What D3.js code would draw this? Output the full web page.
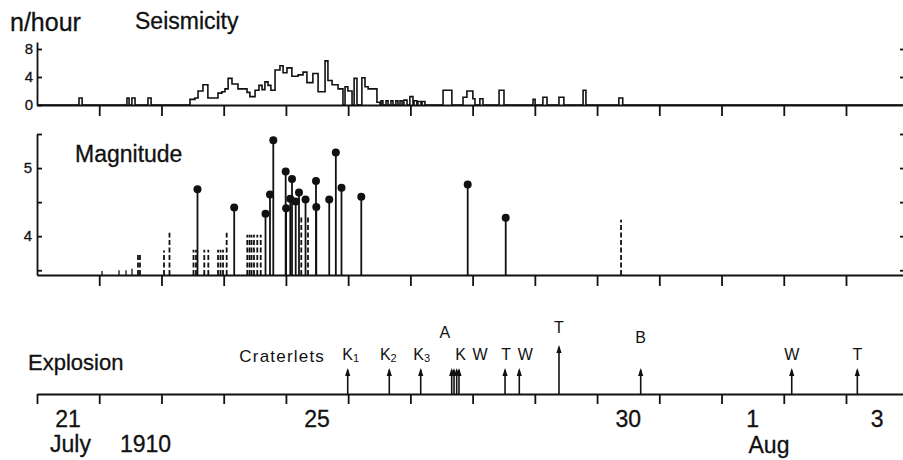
<!DOCTYPE html>
<html>
<head>
<meta charset="utf-8">
<script src="https://cdn.jsdelivr.net/npm/d3@7"></script>
<style>
body { margin: 0; background: #fff; }
svg { display: block; font-family: 'Liberation Sans', Arial, sans-serif; }
svg text { stroke: #111; stroke-width: 0.3px; }
svg text.small { stroke: none; }
.axis path, .axis line { stroke: #111; stroke-width: 1.8; }
.axis text { fill: #111; }
</style>
</head>
<body>
<svg id="chart" width="903" height="460"></svg>
<script>
'use strict';

// times are decimal days of July 1910 (Aug 1 = 32)
var dayTicks = d3.range(21, 35);
var dayLabelDays = [21, 25, 30, 32, 34];
var dayLabelText = ['21', '25', '30', '1', '3'];

// seismicity, n/hour as a step line: hours from 21 July 00:00 where the rate changes
var seisHour = [0, 16.2, 17.4, 34.7, 35.5, 36.6, 37.8, 42.8, 44.0, 59.0, 60.9, 62.1, 64.0, 65.9,
	69.8, 71.3, 72.5, 73.7, 75.2, 77.5, 81.0, 82.1, 84.1, 85.6, 86.8, 87.9, 89.1, 90.2,
	91.8, 93.7, 94.9, 96.4, 98.3, 100.7, 102.6, 104.1, 106.4, 108.4, 111.1, 112.2, 113.8,
	116.1, 118.0, 118.8, 119.9, 121.5, 122.3, 123.4, 125.3, 126.5, 127.7, 131.1, 132.3,
	132.7, 133.4, 134.6, 135.4, 136.5, 137.3, 138.4, 139.2, 140.0, 140.8, 141.5, 142.7,
	143.8, 145.0, 145.4, 146.5, 146.9, 148.1, 148.5, 149.6, 156.6, 160.0, 164.3, 165.8,
	168.1, 168.9, 170.8, 172.0, 178.2, 180.1, 191.3, 192.1, 195.1, 196.7, 201.3, 203.2,
	210.6, 211.7, 224.4, 225.9, 334];
var seisRate = [0, 1, 0, 1, 0, 1, 0, 1, 0, 0.8, 1, 2, 2.9, 1,
	1.7, 1.9, 2.3, 3.8, 3, 2.3, 1.8, 1.2, 2.1, 2.8, 2.2, 3.3, 2.8, 2.1,
	5, 5.6, 4.6, 5.3, 4.1, 4.3, 4.7, 3.2, 4.5, 1.9, 6.3, 3.5, 2.9,
	2.3, 0, 2.6, 2, 0, 3.8, 0, 3.9, 2.6, 2.3, 0.4, 0,
	0.6, 0, 0.6, 0, 0.6, 0, 0.6, 0, 0.6, 0, 0.7, 0,
	1.2, 0, 0.6, 0, 0.5, 0, 0.5, 0, 2.1, 0, 1.1, 2,
	0.9, 0, 0.9, 0, 2.1, 0, 0.8, 0, 1.1, 0, 1.1, 0,
	2.1, 0, 1, 0, 0];

// magnitudes: 'dot' solid with head, 'line' solid without head, 'dash' dashed
var magDay = [22.045, 22.318, 22.430, 22.527, 22.623, 22.655, 23.041, 23.129, 23.515, 23.555,
	23.579, 23.688, 23.753, 23.909, 23.949, 23.989, 24.048, 24.169, 24.379, 24.415,
	24.447, 24.487, 24.540, 24.595, 24.672, 24.744, 24.797, 24.996, 25.003, 25.070,
	25.098, 25.157, 25.210, 25.247, 25.315, 25.355, 25.483, 25.488, 25.696, 25.802,
	25.893, 26.211, 27.921, 28.532, 30.385];
var magValue = [3.49, 3.50, 3.50, 3.52, 3.76, 3.76, 3.79, 4.05, 3.80, 3.80,
	4.69, 3.80, 3.80, 3.80, 3.80, 3.80, 4.05, 4.42, 4.02, 4.02,
	4.02, 4.02, 4.02, 4.02, 4.33, 4.61, 5.41, 4.95, 4.41, 4.55,
	4.84, 4.51, 4.64, 4.29, 4.54, 4.30, 4.81, 4.43, 4.54, 5.23,
	4.71, 4.58, 4.76, 4.27, 4.24];
var magKind = ['line', 'line', 'line', 'line', 'dash', 'dash', 'dash', 'dash', 'dash', 'dash',
	'dot', 'dash', 'dash', 'dash', 'dash', 'dash', 'dash', 'dot', 'dash', 'dash',
	'dash', 'dash', 'dash', 'dash', 'dot', 'dot', 'dot', 'dot', 'dot', 'dot',
	'dot', 'dot', 'dot', 'dash', 'dot', 'dash', 'dot', 'dot', 'dot', 'dot',
	'dot', 'dot', 'dot', 'dot', 'dash'];

// explosions
var expDay = [25.993, 26.661, 27.166, 27.664, 27.701, 27.744, 27.781, 28.521, 28.750, 29.388, 30.701, 33.128, 34.182];
var expLabel = ['K1', 'K2', 'K3', 'A', '', 'K', 'W', 'T', 'W', 'T', 'B', 'W', 'T'];
var expSize = [1, 1, 1, 1, 1, 1, 1, 1, 1, 2, 1, 1, 1];

var svg = d3.select('#chart');
var ink = '#111';

var x = d3.scaleLinear()
	.domain([21, 34.916])
	.range([37, 903]);

var seisBase = 105;
var magBase = 275;
var expBase = 394;

var ySeis = d3.scaleLinear().domain([0, 9]).range([seisBase, 42]);
var yMag = d3.scaleLinear().domain([3.43, 5.5]).range([magBase, 134]);

// ---- seismicity panel ----
svg.append('g')
	.attr('class', 'axis')
	.attr('transform', 'translate(0,' + seisBase + ')')
	.call(d3.axisBottom(x).tickValues(dayTicks.slice(1)).tickSizeInner(11).tickSizeOuter(0).tickFormat(''));

svg.append('g')
	.attr('class', 'axis')
	.attr('transform', 'translate(' + x(21) + ',0)')
	.call(d3.axisLeft(ySeis).tickValues([0, 4, 8]).tickSizeInner(-5).tickSizeOuter(0).tickPadding(4))
	.selectAll('text')
	.style('font-size', '15px');

svg.append('g')
	.attr('class', 'axis')
	.attr('transform', 'translate(903,0)')
	.call(d3.axisLeft(ySeis).tickValues([4, 8]).tickSizeInner(3).tickSizeOuter(0).tickFormat(''))
	.select('.domain').remove();

var seisData = seisHour.map(function(h, i) {
	return {day: 21 + h / 24, rate: seisRate[i]};
});

var seisLine = d3.line()
	.curve(d3.curveStepAfter)
	.x(function(d) { return x(d.day); })
	.y(function(d) { return ySeis(d.rate); });

svg.append('path')
	.datum(seisData)
	.attr('d', seisLine)
	.attr('fill', 'none')
	.attr('stroke', ink)
	.attr('stroke-width', 1.6);

svg.append('text')
	.attr('x', 10)
	.attr('y', 31)
	.style('font-size', '25px')
	.attr('fill', ink)
	.text('n/hour');

svg.append('text')
	.attr('x', 135)
	.attr('y', 29)
	.style('font-size', '23px')
	.attr('fill', ink)
	.text('Seismicity');

// ---- magnitude panel ----
svg.append('g')
	.attr('class', 'axis')
	.attr('transform', 'translate(0,' + magBase + ')')
	.call(d3.axisBottom(x).tickValues(dayTicks.slice(1)).tickSizeInner(11).tickSizeOuter(0).tickFormat(''));

svg.append('g')
	.attr('class', 'axis')
	.attr('transform', 'translate(' + x(21) + ',0)')
	.call(d3.axisLeft(yMag).tickValues([3.5, 4, 4.5, 5, 5.5]).tickSizeInner(-5).tickSizeOuter(0).tickPadding(5)
		.tickFormat(function(d) { return d % 1 === 0 ? d : ''; }))
	.selectAll('text')
	.style('font-size', '15px');

svg.append('g')
	.attr('class', 'axis')
	.attr('transform', 'translate(903,0)')
	.call(d3.axisLeft(yMag).tickValues([3.5, 4, 4.5, 5, 5.5]).tickSizeInner(3).tickSizeOuter(0).tickFormat(''))
	.select('.domain').remove();

svg.append('text')
	.attr('x', 75)
	.attr('y', 162)
	.style('font-size', '23px')
	.attr('fill', ink)
	.text('Magnitude');

var magData = magDay.map(function(d, i) {
	return {day: d, mag: magValue[i], kind: magKind[i]};
});

var quakes = svg.append('g').selectAll('g')
	.data(magData)
	.enter().append('g');

quakes.append('line')
	.attr('x1', function(d) { return x(d.day); })
	.attr('x2', function(d) { return x(d.day); })
	.attr('y1', yMag(3.43))
	.attr('y2', function(d) { return yMag(d.mag); })
	.attr('stroke', ink)
	.attr('stroke-width', function(d) { return d.kind === 'line' ? 1.3 : 1.8; })
	.attr('stroke-dasharray', function(d) { return d.kind === 'dash' ? '5,2.5' : null; });

quakes.filter(function(d) { return d.kind === 'dot'; })
	.append('circle')
	.attr('cx', function(d) { return x(d.day); })
	.attr('cy', function(d) { return yMag(d.mag); })
	.attr('r', 4)
	.attr('fill', ink);

// ---- explosion panel ----
svg.append('g')
	.attr('class', 'axis')
	.attr('transform', 'translate(0,' + expBase + ')')
	.call(d3.axisBottom(x).tickValues(dayTicks).tickSizeInner(10).tickSizeOuter(0).tickFormat(''));

svg.append('g')
	.selectAll('text')
	.data(dayLabelDays)
	.enter().append('text')
	.attr('x', function(d) { return x(d + 0.5); })
	.attr('y', 427)
	.attr('text-anchor', 'middle')
	.style('font-size', '23px')
	.attr('fill', ink)
	.text(function(d, i) { return dayLabelText[i]; });

svg.append('text').attr('x', x(21) + 13).attr('y', 452).style('font-size', '23px').attr('fill', ink).text('July');
svg.append('text').attr('x', x(21) + 83).attr('y', 452).style('font-size', '23px').attr('fill', ink).text('1910');
svg.append('text').attr('x', x(32) + 27).attr('y', 453).style('font-size', '23px').attr('fill', ink).text('Aug');

svg.append('text')
	.attr('x', 28)
	.attr('y', 370)
	.style('font-size', '22px')
	.attr('fill', ink)
	.text('Explosion');

svg.append('text')
	.attr('class', 'small')
	.attr('x', 325)
	.attr('y', 362)
	.attr('text-anchor', 'end')
	.style('font-size', '17px')
	.style('letter-spacing', '1.2px')
	.attr('fill', ink)
	.text('Craterlets');

var arrowLen = {1: 26, 2: 49};
// label nudges where the labels are crowded
var labelDx = {0: 3, 1: -1, 2: 1, 3: -7, 5: 4, 6: 21, 7: 1, 8: 6};
var labelLift = {3: 30, 9: 12, 10: 25};

var expData = expDay.map(function(d, i) {
	return {day: d, label: expLabel[i], size: expSize[i], i: i};
});

var arrows = svg.append('g').selectAll('g')
	.data(expData)
	.enter().append('g')
	.attr('transform', function(d) { return 'translate(' + x(d.day) + ',' + expBase + ')'; });

arrows.append('line')
	.attr('y1', 0)
	.attr('y2', function(d) { return -arrowLen[d.size] + 2; })
	.attr('stroke', ink)
	.attr('stroke-width', 1.6);

arrows.append('path')
	.attr('d', function(d) {
		var t = -arrowLen[d.size];
		return 'M0,' + t + 'L-2.6,' + (t + 8) + 'L2.6,' + (t + 8) + 'Z';
	})
	.attr('fill', ink);

var labels = arrows.append('text')
	.attr('class', 'small')
	.attr('x', function(d) { return labelDx[d.i] || 0; })
	.attr('y', function(d) { return -arrowLen[d.size] - (labelLift[d.i] || 8); })
	.attr('text-anchor', 'middle')
	.style('font-size', '16px')
	.attr('fill', ink);

labels.append('tspan')
	.text(function(d) { return d.label.charAt(0); });

labels.append('tspan')
	.attr('dy', 2)
	.style('font-size', '11px')
	.text(function(d) { return d.label.slice(1); });
</script>
</body>
</html>
